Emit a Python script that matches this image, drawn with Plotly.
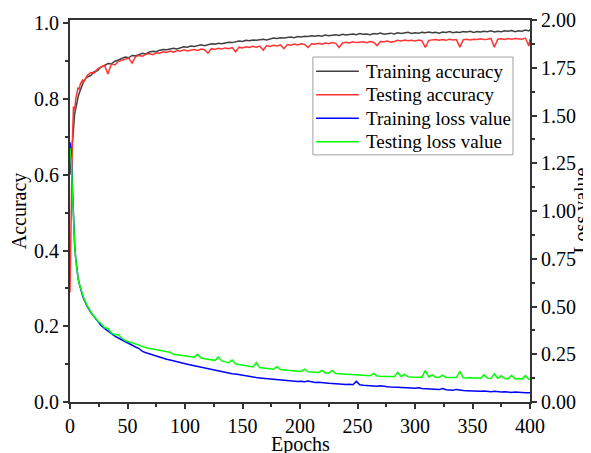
import plotly.graph_objects as go

# ---------------- data ----------------
epochs = list(range(13)) + list(range(15, 400, 3)) + [400]

train_acc = [
    0.60, 0.64, 0.70, 0.73, 0.76, 0.775, 0.795, 0.805, 0.815, 0.825, 0.835, 0.84, 0.848,
    0.858, 0.862, 0.872, 0.875, 0.885, 0.888, 0.894, 0.893, 0.900, 0.903,
    0.906, 0.911, 0.909, 0.915, 0.914, 0.918, 0.921, 0.919, 0.924, 0.926,
    0.925, 0.929, 0.931, 0.930, 0.933, 0.934, 0.932, 0.936, 0.938, 0.937,
    0.940, 0.939, 0.942, 0.943, 0.941, 0.944, 0.946, 0.945, 0.947, 0.946,
    0.948, 0.950, 0.949, 0.951, 0.953, 0.952, 0.955, 0.954, 0.956, 0.955,
    0.957, 0.958, 0.956, 0.959, 0.961, 0.960, 0.962, 0.961, 0.963, 0.964,
    0.962, 0.965, 0.964, 0.966, 0.965, 0.967, 0.966, 0.968, 0.966, 0.969,
    0.967, 0.968, 0.970, 0.968, 0.971, 0.969, 0.970, 0.972, 0.970, 0.973,
    0.971, 0.972, 0.970, 0.973, 0.972, 0.974, 0.971, 0.973, 0.974, 0.972,
    0.975, 0.973, 0.974, 0.976, 0.973, 0.975, 0.974, 0.976, 0.975, 0.977,
    0.975, 0.976, 0.974, 0.977, 0.976, 0.978, 0.975, 0.977, 0.976, 0.978,
    0.977, 0.979, 0.976, 0.978, 0.977, 0.979, 0.978, 0.980, 0.977, 0.979,
    0.978, 0.980, 0.979, 0.981, 0.978, 0.980, 0.979, 0.982, 0.980,
    0.983,
]

test_acc = [
    0.29, 0.56, 0.68, 0.78, 0.77, 0.80, 0.82, 0.83, 0.825, 0.84, 0.845, 0.85, 0.845,
    0.862, 0.870, 0.868, 0.880, 0.884, 0.889, 0.866, 0.893, 0.890, 0.899,
    0.902, 0.906, 0.908, 0.895, 0.912, 0.915, 0.913, 0.918, 0.920, 0.917,
    0.922, 0.921, 0.925, 0.923, 0.927, 0.924, 0.928, 0.926, 0.930, 0.927,
    0.929, 0.931, 0.928, 0.932, 0.930, 0.921, 0.933, 0.931, 0.934, 0.932,
    0.935, 0.933, 0.936, 0.925, 0.937, 0.935, 0.938, 0.936, 0.939, 0.937,
    0.940, 0.929, 0.941, 0.939, 0.942, 0.940, 0.943, 0.933, 0.944, 0.942,
    0.945, 0.943, 0.946, 0.944, 0.936, 0.946, 0.945, 0.947, 0.945, 0.948,
    0.946, 0.949, 0.947, 0.936, 0.948, 0.950, 0.948, 0.951, 0.949, 0.950,
    0.951, 0.949, 0.952, 0.950, 0.941, 0.952, 0.951, 0.953, 0.950, 0.952,
    0.955, 0.953, 0.956, 0.954, 0.955, 0.953, 0.956, 0.954, 0.936, 0.955,
    0.956, 0.957, 0.955, 0.957, 0.955, 0.958, 0.956, 0.957, 0.937, 0.957,
    0.958, 0.956, 0.958, 0.957, 0.959, 0.957, 0.958, 0.960, 0.937, 0.958,
    0.959, 0.957, 0.960, 0.958, 0.960, 0.959, 0.958, 0.961, 0.940,
    0.958,
]

train_loss = [
    1.36, 1.30, 1.14, 0.96, 0.83, 0.75, 0.69, 0.65, 0.62, 0.595, 0.575, 0.555, 0.54,
    0.50, 0.47, 0.445, 0.42, 0.40, 0.385, 0.37, 0.358, 0.345, 0.335,
    0.325, 0.315, 0.305, 0.296, 0.288, 0.28, 0.265, 0.258, 0.252, 0.246,
    0.238, 0.234, 0.228, 0.224, 0.22, 0.215, 0.214, 0.206, 0.203, 0.198,
    0.194, 0.19, 0.186, 0.182, 0.178, 0.174, 0.168, 0.166, 0.161, 0.158,
    0.155, 0.152, 0.148, 0.146, 0.143, 0.139, 0.134, 0.132, 0.129, 0.128,
    0.126, 0.124, 0.122, 0.12, 0.118, 0.116, 0.115, 0.113, 0.111, 0.11,
    0.108, 0.107, 0.109, 0.106, 0.11, 0.104, 0.102, 0.103, 0.1, 0.099,
    0.098, 0.097, 0.095, 0.096, 0.094, 0.092, 0.093, 0.09, 0.108, 0.09,
    0.088, 0.086, 0.087, 0.084, 0.083, 0.085, 0.081, 0.08, 0.078, 0.079,
    0.077, 0.076, 0.074, 0.075, 0.073, 0.072, 0.074, 0.071, 0.07, 0.068,
    0.067, 0.069, 0.065, 0.071, 0.064, 0.063, 0.062, 0.066, 0.061, 0.06,
    0.059, 0.058, 0.06, 0.057, 0.056, 0.058, 0.055, 0.054, 0.056, 0.053,
    0.052, 0.054, 0.051, 0.05, 0.052, 0.049, 0.05, 0.048, 0.047,
    0.049,
]

test_loss = [
    1.33, 1.27, 1.12, 0.95, 0.82, 0.745, 0.69, 0.65, 0.62, 0.597, 0.577, 0.557, 0.543,
    0.505, 0.472, 0.448, 0.425, 0.41, 0.39, 0.385, 0.362, 0.352, 0.352,
    0.335, 0.322, 0.315, 0.31, 0.305, 0.298, 0.29, 0.284, 0.28, 0.278,
    0.274, 0.27, 0.268, 0.263, 0.26, 0.25, 0.247, 0.246, 0.243, 0.24,
    0.238, 0.235, 0.25, 0.23, 0.226, 0.224, 0.222, 0.218, 0.235, 0.215,
    0.21, 0.206, 0.22, 0.2, 0.196, 0.192, 0.188, 0.185, 0.183, 0.205,
    0.18, 0.178, 0.176, 0.175, 0.172, 0.185, 0.17, 0.168, 0.166, 0.165,
    0.163, 0.162, 0.16, 0.172, 0.158, 0.157, 0.155, 0.154, 0.165, 0.152,
    0.151, 0.165, 0.149, 0.148, 0.147, 0.145, 0.146, 0.144, 0.143, 0.142,
    0.14, 0.138, 0.137, 0.15, 0.136, 0.135, 0.136, 0.134, 0.133, 0.132,
    0.155, 0.133, 0.145, 0.132, 0.131, 0.13, 0.132, 0.13, 0.165, 0.131,
    0.142, 0.13, 0.129, 0.14, 0.128, 0.129, 0.127, 0.128, 0.16, 0.127,
    0.126, 0.128, 0.125, 0.127, 0.124, 0.142, 0.125, 0.123, 0.148, 0.124,
    0.138, 0.123, 0.122, 0.14, 0.121, 0.123, 0.12, 0.138, 0.118,
    0.12,
]

series_names = ["Training accuracy", "Testing accuracy", "Training loss value", "Testing loss value"]
series_colors = ["#404040", "#ff3333", "#0000ff", "#00ff00"]

# ---------------- figure ----------------
FONT = "Liberation Serif, Times New Roman, serif"
AXC = "#333333"

fig = go.Figure()
fig.add_trace(go.Scatter(x=epochs, y=train_acc, mode="lines", name=series_names[0],
                         line=dict(color=series_colors[0], width=1.5)))
fig.add_trace(go.Scatter(x=epochs, y=test_acc, mode="lines", name=series_names[1],
                         line=dict(color=series_colors[1], width=1.5)))
fig.add_trace(go.Scatter(x=epochs, y=train_loss, mode="lines", name=series_names[2],
                         line=dict(color=series_colors[2], width=1.5), yaxis="y2"))
fig.add_trace(go.Scatter(x=epochs, y=test_loss, mode="lines", name=series_names[3],
                         line=dict(color=series_colors[3], width=1.5), yaxis="y2"))

tickfont = dict(family=FONT, size=20, color="black")
titlefont = dict(family=FONT, size=20, color="black")

axis_common = dict(showgrid=False, zeroline=False, automargin=False,
                   showline=True, linecolor=AXC, linewidth=2,
                   ticks="outside", ticklen=5, tickwidth=1.5, tickcolor=AXC,
                   tickfont=tickfont)

# Legend box drawn in paper coordinates (relative to the plot area)
leg_x0, leg_x1, leg_y0, leg_y1 = 0.528, 0.963, 0.647, 0.903
leg_rows = [0.866, 0.804, 0.743, 0.681]
leg_line_x0, leg_line_x1, leg_text_x = 0.535, 0.628, 0.639

shapes = [dict(type="rect", xref="paper", yref="paper", x0=leg_x0, x1=leg_x1, y0=leg_y0, y1=leg_y1,
               line=dict(color="#a0a0a0", width=1), fillcolor="white", layer="above")]
annotations = []
for name, color, yy in zip(series_names, series_colors, leg_rows):
    shapes.append(dict(type="line", xref="paper", yref="paper", x0=leg_line_x0, x1=leg_line_x1,
                       y0=yy, y1=yy, line=dict(color=color, width=1.5), layer="above"))
    annotations.append(dict(text=name, xref="paper", yref="paper", x=leg_text_x, y=yy,
                            xanchor="left", yanchor="middle", showarrow=False,
                            font=dict(family=FONT, size=19, color="black")))

# axis titles placed as annotations
annotations.append(dict(text="Loss value", xref="paper", yref="paper", x=1.11, y=0.5,
                        xanchor="center", yanchor="middle", textangle=-90, showarrow=False,
                        font=titlefont))
annotations.append(dict(text="Epochs", xref="paper", yref="paper", x=0.5, y=-0.147,
                        xanchor="center", yanchor="bottom", showarrow=False,
                        font=titlefont))

fig.update_layout(
    width=583, height=445,
    margin=dict(l=62, r=61, t=12, b=51, autoexpand=False),
    paper_bgcolor="white", plot_bgcolor="white",
    font=dict(family=FONT, color="black"),
    showlegend=False,
    xaxis=dict(range=[0, 400], dtick=50, tick0=0, mirror=True,
               minor=dict(dtick=25, ticks="outside", ticklen=3, tickcolor=AXC, tickwidth=1.5, showgrid=False),
               **axis_common),
    yaxis=dict(range=[0, 1.0087], dtick=0.2, tick0=0, tickformat=".1f", mirror=True,
               minor=dict(dtick=0.1, ticks="outside", ticklen=3, tickcolor=AXC, tickwidth=1.5, showgrid=False),
               title=dict(text="Accuracy", font=titlefont), **axis_common),
    yaxis2=dict(range=[0, 2.0], dtick=0.25, tick0=0, tickformat=".2f",
                overlaying="y", side="right",
                minor=dict(dtick=0.125, ticks="outside", ticklen=3, tickcolor=AXC, tickwidth=1.5, showgrid=False),
                **axis_common),
    shapes=shapes,
    annotations=annotations,
)

fig.write_html("out.html")
